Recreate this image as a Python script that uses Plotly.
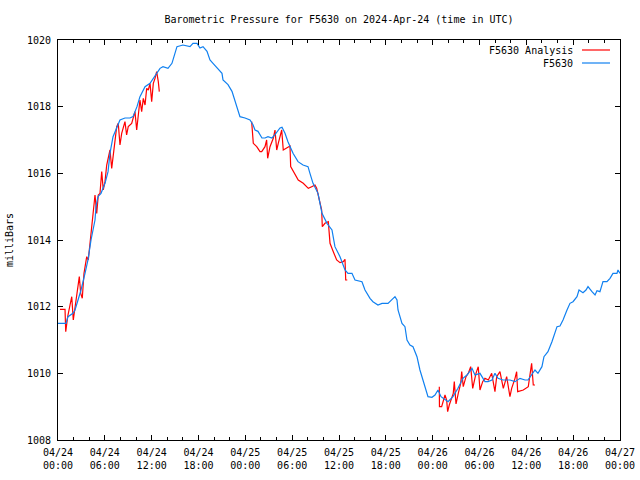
import pandas as pd
import plotly.graph_objects as go

# ---- data (hours since 2024-04-24 00:00 UTC, pressure in mbar) ----
blue_hours = [0.0, 1.02, 1.28, 1.92, 2.18, 2.56, 2.95, 3.46, 3.84, 4.23, 4.74, 4.87, 5.12, 5.51,
              6.02, 6.41, 6.66, 7.05, 7.94, 8.58, 9.22, 9.61, 10.12, 10.5, 11.15, 11.79, 12.68,
              13.07, 13.45, 14.09, 14.6, 14.99, 15.24, 16.01, 16.91, 17.29, 17.81, 18.19, 18.58,
              19.09, 19.47, 19.86, 20.37, 21.01, 21.14, 21.78, 22.29, 22.67, 22.93, 23.31, 23.96,
              24.6, 24.98, 25.24, 25.62, 26.13, 26.52, 26.9, 27.41, 27.8, 28.44, 28.7, 29.08,
              29.46, 30.11, 30.75, 31.39, 32.03, 32.28, 32.67, 33.31, 33.82, 34.46, 35.1, 35.48,
              36.13, 36.77, 37.15, 37.66, 38.05, 38.94, 39.33, 39.97, 40.35, 40.99, 41.51, 42.28,
              42.79, 43.17, 43.43, 43.56, 44.07, 44.45, 44.71, 45.09, 45.48, 45.99, 46.37, 46.76,
              47.14, 47.4, 47.91, 48.3, 48.68, 49.07, 49.97, 50.6, 51.24, 51.88, 52.4, 53.04,
              53.42, 54.06, 54.7, 55.09, 55.6, 55.98, 56.37, 57.01, 57.9, 58.55, 59.19, 59.83,
              60.21, 60.72, 61.11, 61.49, 62.0, 62.26, 62.77, 63.28, 63.67, 63.93, 64.31, 64.7,
              65.21, 65.59, 65.98, 66.49, 66.75, 67.26, 67.64, 67.9, 68.41, 68.8, 69.05, 69.43,
              69.82, 70.33, 70.72, 71.1, 71.61, 71.74, 72.0]
blue_values = [1011.5, 1011.5, 1011.7, 1011.8, 1011.9, 1012.2, 1012.5, 1013.0, 1013.4, 1014.0,
               1014.6, 1015.0, 1015.3, 1015.4, 1015.7, 1016.05, 1016.6, 1017.1, 1017.6, 1017.66,
               1017.66, 1017.7, 1018.0, 1018.3, 1018.6, 1018.7, 1019.0, 1019.15, 1019.2, 1019.15,
               1019.3, 1019.6, 1019.8, 1019.85, 1019.8, 1019.9, 1019.9, 1019.76, 1019.8, 1019.66,
               1019.4, 1019.3, 1019.16, 1019.0, 1018.8, 1018.66, 1018.46, 1018.2, 1017.96, 1017.7,
               1017.66, 1017.6, 1017.46, 1017.3, 1017.26, 1017.06, 1017.06, 1017.1, 1017.06,
               1017.16, 1017.36, 1017.38, 1017.2, 1016.95, 1016.6, 1016.35, 1016.25, 1016.2,
               1016.0, 1015.7, 1015.4, 1014.8, 1014.5, 1014.3, 1013.8, 1013.5, 1013.1, 1013.0,
               1013.0, 1012.8, 1012.75, 1012.5, 1012.25, 1012.15, 1012.05, 1012.1, 1012.1, 1012.2,
               1012.3, 1012.2, 1011.9, 1011.5, 1011.4, 1011.0, 1010.85, 1010.8, 1010.5, 1010.1,
               1009.8, 1009.5, 1009.3, 1009.28, 1009.35, 1009.5, 1009.3, 1009.15, 1009.3, 1009.55,
               1009.85, 1009.95, 1010.15, 1009.95, 1010.0, 1009.75, 1009.75, 1009.8, 1010.0,
               1009.85, 1009.8, 1009.8, 1009.75, 1009.85, 1009.8, 1009.8, 1009.95, 1010.1, 1010.0,
               1010.2, 1010.5, 1010.65, 1010.95, 1011.2, 1011.4, 1011.42, 1011.6, 1011.9, 1012.1,
               1012.15, 1012.3, 1012.5, 1012.42, 1012.5, 1012.6, 1012.45, 1012.35, 1012.48,
               1012.45, 1012.75, 1012.75, 1012.85, 1013.0, 1013.0, 1013.1, 1013.0]

# Analysis series; None marks a gap between segments
red_hours = [0.26, 0.90, 0.99, 1.24, 1.54, 1.76, 1.96, 2.27, 2.52, 2.73, 2.91, 3.11, 3.33, 3.68,
             3.88, 4.10, 4.32, 4.52, 4.74, 4.96, 5.16, 5.38, 5.60, 5.80, 6.02, 6.24, 6.44, 6.66,
             6.88, 7.08, 7.52, 7.72, 7.94, 8.16, 8.58, 8.79, 9.0, 9.44, 9.86, 10.08, 10.5, 10.72,
             10.93, 11.15, 11.36, 11.57, 11.79, 12.0, 12.21, 12.43, 12.64, 12.85, 12.98,
             None,
             24.81, 25.02, 25.46, 25.88, 26.1, 26.52, 26.73, 26.86, 27.16, 27.58, 27.8, 28.02,
             28.22, 28.44, 28.66, 28.86, 29.3, 29.72, 29.81, 30.14, 30.78, 31.42, 32.07, 32.5,
             32.92, 33.14, 33.35, 33.56, 33.78, 33.86, 34.2, 34.63, 34.76, 34.85, 35.27, 35.7,
             36.13, 36.55, 36.77, 36.86, 37.06,
             None,
             48.85, 48.87, 49.15, 49.36, 49.58, 49.79, 49.92, 50.13, 50.44, 50.64, 50.77, 50.99,
             51.28, 51.59, 51.72, 51.92, 52.27, 52.56, 52.87, 53.13, 53.55, 53.84, 54.06, 54.41,
             54.70, 55.13, 55.56, 55.98, 56.2, 56.62, 57.05, 57.48, 57.9, 58.12, 58.55, 58.76,
             58.89, 59.61, 60.25, 60.47, 60.68, 60.89, 61.11]
red_values = [1011.92, 1011.92, 1011.25, 1011.7, 1012.05, 1012.3, 1011.6, 1012.1, 1012.6, 1012.9,
              1012.4, 1012.25, 1013.0, 1013.5, 1013.4, 1013.9, 1014.35, 1014.7, 1015.35, 1014.8,
              1015.35, 1015.4, 1016.05, 1015.5, 1015.75, 1016.25, 1016.5, 1016.7, 1016.15, 1016.6,
              1017.4, 1017.5, 1016.85, 1017.2, 1017.55, 1017.15, 1017.4, 1017.5, 1017.85, 1017.3,
              1018.2, 1017.85, 1018.25, 1018.05, 1018.55, 1018.5, 1018.7, 1018.15, 1018.7, 1018.85,
              1019.05, 1018.75, 1018.45,
              None,
              1017.55, 1016.9, 1016.8, 1016.65, 1016.65, 1016.8, 1017.0, 1016.45, 1016.8, 1017.05,
              1017.3, 1016.7, 1016.9, 1017.1, 1017.3, 1016.7, 1016.75, 1016.82, 1016.2, 1016.05,
              1015.8, 1015.7, 1015.55, 1015.6, 1015.65, 1015.55, 1015.35, 1015.2, 1014.9, 1014.4,
              1014.5, 1014.55, 1014.25, 1013.9, 1013.65, 1013.4, 1013.32, 1013.35, 1013.42,
              1012.8, 1012.8,
              None,
              1009.6, 1009.0, 1009.0, 1009.2, 1009.35, 1009.2, 1008.85, 1009.05, 1009.3, 1009.4,
              1009.75, 1009.08, 1009.4, 1009.7, 1010.05, 1009.6, 1009.9, 1010.0, 1010.2, 1009.55,
              1010.0, 1010.2, 1009.5, 1009.75, 1009.85, 1009.8, 1010.0, 1009.45, 1009.9, 1010.05,
              1009.55, 1009.9, 1009.3, 1009.55, 1009.85, 1010.05, 1009.45, 1009.5, 1009.6, 1010.0,
              1010.3, 1009.65, 1009.65]

series_names = ["F5630 Analysis", "F5630"]
series_colors = ["#ff0000", "#1080f0"]
title_text = "Barometric Pressure for F5630 on 2024-Apr-24 (time in UTC)"
y_title = "milliBars"

start = pd.Timestamp("2024-04-24 00:00")
end = pd.Timestamp("2024-04-27 00:00")


def to_time(hours):
    return [None if h is None else start + pd.Timedelta(hours=h) for h in hours]


FONT = "DejaVu Sans Mono"

fig = go.Figure()
fig.add_trace(go.Scatter(x=to_time(red_hours), y=red_values, mode="lines",
                         line=dict(color=series_colors[0], width=1.2), name=series_names[0],
                         connectgaps=False))
fig.add_trace(go.Scatter(x=to_time(blue_hours), y=blue_values, mode="lines",
                         line=dict(color=series_colors[1], width=1.2), name=series_names[1]))

fig.update_layout(
    width=640, height=480,
    margin=dict(l=58, r=20, t=40, b=40, autoexpand=False),
    paper_bgcolor="white", plot_bgcolor="white",
    showlegend=False,
    font=dict(family=FONT, size=10, color="black"),
    title=dict(text=title_text, x=339 / 640, xanchor="center", y=1 - 19 / 480,
               yanchor="middle", font=dict(family=FONT, size=10)),
)

fig.update_xaxes(
    type="date", range=[start, end], automargin=False,
    tickmode="linear", tick0=start, dtick=6 * 3600 * 1000,
    tickformat="%m/%d<br>%H:%M", ticklabelstandoff=3,
    ticks="inside", ticklen=5, tickcolor="black", tickwidth=1,
    minor=dict(ticks="inside", ticklen=3, dtick=2 * 3600 * 1000, tickcolor="black", showgrid=False),
    showline=True, linecolor="black", linewidth=1, mirror="allticks",
    showgrid=False, zeroline=False,
    tickfont=dict(family=FONT, size=10),
)
fig.update_yaxes(
    range=[1008, 1020], automargin=False, tickmode="linear", tick0=1008, dtick=2,
    ticklabelstandoff=4,
    ticks="inside", ticklen=5, tickcolor="black", tickwidth=1,
    showline=True, linecolor="black", linewidth=1, mirror="allticks",
    showgrid=False, zeroline=False,
    title=dict(text=y_title, font=dict(family=FONT, size=10), standoff=11),
    tickfont=dict(family=FONT, size=10),
)

# Legend (gnuplot style: text then line sample), top-right inside the plot
legend_rows = [50, 63]
for name, color, ypix in zip(series_names, series_colors, legend_rows):
    yp = 1 - (ypix - 40) / 400
    fig.add_annotation(xref="paper", yref="paper", x=(575 - 58) / 562, y=yp, text=name,
                       showarrow=False, xanchor="right", yanchor="middle",
                       font=dict(family=FONT, size=10, color="black"))
    fig.add_shape(type="line", xref="paper", yref="paper",
                  x0=(582 - 58) / 562, x1=(610 - 58) / 562, y0=yp, y1=yp,
                  line=dict(color=color, width=1.2))

fig.write_html("out.html", config={"displayModeBar": False},
               post_script="document.body.style.margin='0';document.body.style.overflow='hidden';")
